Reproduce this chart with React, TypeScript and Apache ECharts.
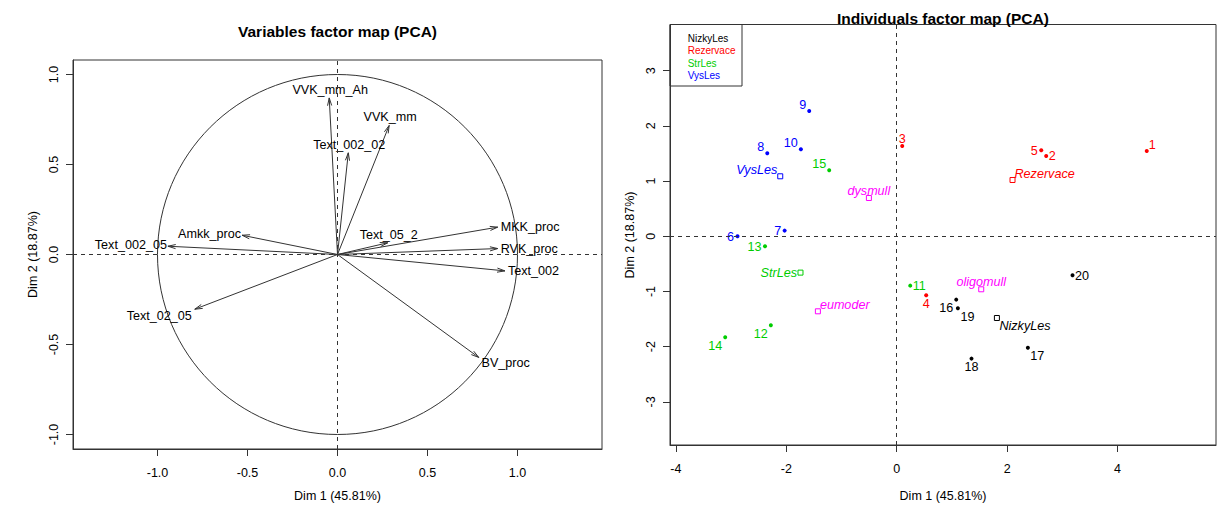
import React, { useEffect, useRef } from "react";
import * as echarts from "echarts";

// ---------- Variables factor map ----------
const varNames = ["VVK_mm_Ah", "VVK_mm", "Text_002_02", "Text_05_2", "MKK_proc", "RVK_proc", "Text_002", "Amkk_proc", "Text_002_05", "Text_02_05", "BV_proc"];
const varDim1 = [-0.046, 0.287, 0.06, 0.279, 0.89, 0.89, 0.93, -0.53, -0.942, -0.793, 0.785];
const varDim2 = [0.87, 0.717, 0.565, 0.065, 0.152, 0.033, -0.091, 0.107, 0.046, -0.304, -0.572];
const varLabelPos = ["top", "top", "top", "top", "right", "right", "right", "left", "left", "leftBelow", "rightBelow"];
const varTicks = [-1, -0.5, 0, 0.5, 1];

// ---------- Individuals factor map ----------
const indNames = ["1", "2", "3", "4", "5", "6", "7", "8", "9", "10", "11", "12", "13", "14", "15", "16", "17", "18", "19", "20"];
const indDim1 = [4.53, 2.708, 0.1, 0.534, 2.618, -2.884, -2.03, -2.345, -1.585, -1.736, 0.245, -2.28, -2.386, -3.107, -1.223, 1.078, 2.376, 1.355, 1.108, 3.185];
const indDim2 = [1.546, 1.455, 1.636, -1.069, 1.558, 0.0, 0.103, 1.504, 2.27, 1.576, -0.894, -1.612, -0.181, -1.83, 1.196, -1.147, -2.02, -2.216, -1.304, -0.707];
const indGroup = [1, 1, 1, 1, 1, 3, 3, 3, 3, 3, 2, 2, 2, 2, 2, 0, 0, 0, 0, 0];
const indLabelPos = ["tr", "r", "t", "b", "l", "l", "l", "tl", "tl", "tl", "r", "bl", "l", "bl", "tl", "bl", "br", "b", "br", "r"];

const groupNames = ["NizkyLes", "Rezervace", "StrLes", "VysLes"];
const groupDim1 = [1.815, 2.098, -1.743, -2.11];
const groupDim2 = [-1.48, 1.02, -0.658, 1.087];
const groupLabelPos = ["br", "tr", "l", "tl"];
const groupColors = ["#000000", "#FF0000", "#00CD00", "#0000FF"];

const supNames = ["dysmull", "oligomull", "eumoder"];
const supDim1 = [-0.504, 1.531, -1.428];
const supDim2 = [0.694, -0.96, -1.359];
const supLabelPos = ["t", "t", "tr"];
const supColor = "#FF00FF";

const indXTicks = [-4, -2, 0, 2, 4];
const indYTicks = [-3, -2, -1, 0, 1, 2, 3];

const FONT = "'Liberation Sans', Arial, sans-serif";
const LINE = "#333333";
const LABEL_SIZE = 12.6;

function varLabelPlace(pos: string, x: number, y: number) {
  switch (pos) {
    case "top": return { x: x + 1, y: y - 8, align: "center" };
    case "right": return { x: x + 3, y: y, align: "left" };
    case "left": return { x: x - 1, y: y - 1.4, align: "right" };
    case "leftBelow": return { x: x - 3, y: y + 6.3, align: "right" };
    case "rightBelow": return { x: x + 2.7, y: y + 6, align: "left" };
  }
  return { x, y, align: "center" };
}

function indLabelPlace(pos: string, x: number, y: number) {
  switch (pos) {
    case "t": return { x: x, y: y - 7.2, align: "center" };
    case "b": return { x: x, y: y + 8.5, align: "center" };
    case "l": return { x: x - 3.5, y: y + 0.5, align: "right" };
    case "r": return { x: x + 2.5, y: y + 0.5, align: "left" };
    case "tl": return { x: x - 3, y: y - 6, align: "right" };
    case "tr": return { x: x + 2, y: y - 6.3, align: "left" };
    case "bl": return { x: x - 3, y: y + 8.7, align: "right" };
    case "br": return { x: x + 2.5, y: y + 8.3, align: "left" };
  }
  return { x, y, align: "center" };
}

function makeAxisX(gridIndex: number, min: number, max: number, ticks: number[], fmt: (v: number) => string) {
  return {
    gridIndex, type: "value", min, max,
    axisLine: { show: true, onZero: false, lineStyle: { color: LINE, width: 1 } },
    axisTick: { show: true, length: 7, customValues: ticks, lineStyle: { color: LINE } },
    axisLabel: { customValues: ticks, formatter: fmt, margin: 17, fontSize: 12.5, color: "#000", fontFamily: FONT },
    splitLine: { show: false },
  };
}
function makeAxisY(gridIndex: number, min: number, max: number, ticks: number[], fmt: (v: number) => string) {
  return {
    gridIndex, type: "value", min, max,
    axisLine: { show: true, onZero: false, lineStyle: { color: LINE, width: 1 } },
    axisTick: { show: true, length: 7, customValues: ticks, lineStyle: { color: LINE } },
    axisLabel: {
      customValues: ticks, formatter: fmt, margin: 13, rotate: 90, align: "center", verticalAlign: "bottom",
      fontSize: 12.5, color: "#000", fontFamily: FONT,
    },
    splitLine: { show: false },
  };
}

export default function App() {
  const ref = useRef<HTMLDivElement>(null);
  useEffect(() => {
    if (!ref.current) return;
    const chart = echarts.init(ref.current, null, { renderer: "svg" });

    const dashed = {
      silent: true,
      symbol: ["none", "none"],
      label: { show: false },
      lineStyle: { type: [4, 4], color: LINE, width: 1 },
      data: [{ xAxis: 0 }, { yAxis: 0 }],
    };

    const option: any = {
      animation: false,
      backgroundColor: "#ffffff",
      grid: [
        { left: 73, top: 60, width: 529, height: 389, show: true, borderColor: LINE, borderWidth: 1, backgroundColor: "transparent" },
        { left: 670, top: 24.5, width: 546, height: 420.5, show: true, borderColor: LINE, borderWidth: 1, backgroundColor: "transparent" },
      ],
      xAxis: [
        makeAxisX(0, -1.4694, 1.4694, varTicks, (v: number) => v.toFixed(1)),
        makeAxisX(1, -4.107, 5.784, indXTicks, (v: number) => String(v)),
      ],
      yAxis: [
        makeAxisY(0, -1.0806, 1.0806, varTicks, (v: number) => v.toFixed(1)),
        makeAxisY(1, -3.781, 3.837, indYTicks, (v: number) => String(v)),
      ],
      series: [
        // unit circle + zero lines (left)
        {
          type: "custom", xAxisIndex: 0, yAxisIndex: 0, silent: true,
          encode: { x: 0, y: 1 },
          data: [[0, 0]],
          renderItem: (params: any, api: any) => {
            const c = api.coord([0, 0]);
            const s = api.size([1, 1]);
            return { type: "ellipse", shape: { cx: c[0], cy: c[1], rx: s[0], ry: s[1] }, style: { stroke: LINE, fill: "none", lineWidth: 1 } };
          },
          markLine: dashed,
        },
        // arrows
        {
          type: "custom", xAxisIndex: 0, yAxisIndex: 0, silent: true,
          encode: { x: 0, y: 1 },
          data: varNames.map((n, i) => [varDim1[i], varDim2[i], i]),
          renderItem: (params: any, api: any) => {
            const i = api.value(2);
            const o = api.coord([0, 0]);
            const p = api.coord([api.value(0), api.value(1)]);
            const ang = Math.atan2(p[1] - o[1], p[0] - o[0]);
            const L = 8, h = (15 * Math.PI) / 180;
            const a1 = [p[0] - L * Math.cos(ang - h), p[1] - L * Math.sin(ang - h)];
            const a2 = [p[0] - L * Math.cos(ang + h), p[1] - L * Math.sin(ang + h)];
            const lp = varLabelPlace(varLabelPos[i], p[0], p[1]);
            return {
              type: "group",
              children: [
                { type: "line", shape: { x1: o[0], y1: o[1], x2: p[0], y2: p[1] }, style: { stroke: LINE, lineWidth: 1 } },
                { type: "polyline", shape: { points: [a1, p, a2] }, style: { stroke: LINE, fill: "none", lineWidth: 1 } },
                {
                  type: "text",
                  style: { text: varNames[i], x: lp.x, y: lp.y, align: lp.align, verticalAlign: "middle", fontSize: LABEL_SIZE, fontFamily: FONT, fill: "#000" },
                },
              ],
            };
          },
        },
        // individuals
        {
          type: "custom", xAxisIndex: 1, yAxisIndex: 1, silent: true,
          encode: { x: 0, y: 1 },
          data: indNames.map((n, i) => [indDim1[i], indDim2[i], i]),
          renderItem: (params: any, api: any) => {
            const i = api.value(2);
            const p = api.coord([api.value(0), api.value(1)]);
            const col = groupColors[indGroup[i]];
            const lp = indLabelPlace(indLabelPos[i], p[0], p[1]);
            return {
              type: "group",
              children: [
                { type: "circle", shape: { cx: p[0], cy: p[1], r: 2 }, style: { fill: col } },
                { type: "text", style: { text: indNames[i], x: lp.x, y: lp.y, align: lp.align, verticalAlign: "middle", fontSize: LABEL_SIZE, fontFamily: FONT, fill: col } },
              ],
            };
          },
          markLine: dashed,
        },
        // group centres
        {
          type: "custom", xAxisIndex: 1, yAxisIndex: 1, silent: true,
          encode: { x: 0, y: 1 },
          data: groupNames.map((n, i) => [groupDim1[i], groupDim2[i], i]),
          renderItem: (params: any, api: any) => {
            const i = api.value(2);
            const p = api.coord([api.value(0), api.value(1)]);
            const col = groupColors[i];
            const lp = indLabelPlace(groupLabelPos[i], p[0], p[1]);
            return {
              type: "group",
              children: [
                { type: "rect", shape: { x: p[0] - 2.5, y: p[1] - 2.5, width: 5, height: 5 }, style: { stroke: col, fill: "none", lineWidth: 1 } },
                { type: "text", style: { text: groupNames[i], x: lp.x, y: lp.y, align: lp.align, verticalAlign: "middle", fontSize: LABEL_SIZE, fontStyle: "italic", fontFamily: FONT, fill: col } },
              ],
            };
          },
        },
        // supplementary categories
        {
          type: "custom", xAxisIndex: 1, yAxisIndex: 1, silent: true,
          encode: { x: 0, y: 1 },
          data: supNames.map((n, i) => [supDim1[i], supDim2[i], i]),
          renderItem: (params: any, api: any) => {
            const i = api.value(2);
            const p = api.coord([api.value(0), api.value(1)]);
            const lp = indLabelPlace(supLabelPos[i], p[0], p[1]);
            return {
              type: "group",
              children: [
                { type: "rect", shape: { x: p[0] - 2.5, y: p[1] - 2.5, width: 5, height: 5 }, style: { stroke: supColor, fill: "none", lineWidth: 1 } },
                { type: "text", style: { text: supNames[i], x: lp.x, y: lp.y, align: lp.align, verticalAlign: "middle", fontSize: LABEL_SIZE, fontStyle: "italic", fontFamily: FONT, fill: supColor } },
              ],
            };
          },
        },
      ],
      graphic: [
        { type: "text", x: 337.5, y: 31, style: { text: "Variables factor map (PCA)", align: "center", verticalAlign: "middle", fontSize: 15.5, fontWeight: "bold", fontFamily: FONT, fill: "#000" } },
        { type: "text", x: 943, y: 18, style: { text: "Individuals factor map (PCA)", align: "center", verticalAlign: "middle", fontSize: 15.5, fontWeight: "bold", fontFamily: FONT, fill: "#000" } },
        { type: "text", x: 337.5, y: 496, style: { text: "Dim 1 (45.81%)", align: "center", verticalAlign: "middle", fontSize: 12.5, fontFamily: FONT, fill: "#000" } },
        { type: "text", x: 943, y: 496, style: { text: "Dim 1 (45.81%)", align: "center", verticalAlign: "middle", fontSize: 12.5, fontFamily: FONT, fill: "#000" } },
        { type: "text", x: 33, y: 254.5, rotation: Math.PI / 2, style: { text: "Dim 2 (18.87%)", align: "center", verticalAlign: "middle", fontSize: 12.5, fontFamily: FONT, fill: "#000" } },
        { type: "text", x: 630, y: 235, rotation: Math.PI / 2, style: { text: "Dim 2 (18.87%)", align: "center", verticalAlign: "middle", fontSize: 12.5, fontFamily: FONT, fill: "#000" } },
        {
          type: "group", z: 100,
          children: [
            { type: "rect", shape: { x: 670, y: 24.5, width: 72, height: 61.5 }, style: { stroke: LINE, fill: "#fff", lineWidth: 1 } },
            ...groupNames.map((g, i) => ({
              type: "text", x: 687.7, y: 38.3 + i * 12.35,
              style: { text: g, align: "left", verticalAlign: "middle", fontSize: 10, fontFamily: FONT, fill: groupColors[i] },
            })),
          ],
        },
      ],
    };
    chart.setOption(option);
    return () => chart.dispose();
  }, []);
  return <div ref={ref} style={{ position: "absolute", left: 0, top: 0, width: 1221, height: 511 }} />;
}
